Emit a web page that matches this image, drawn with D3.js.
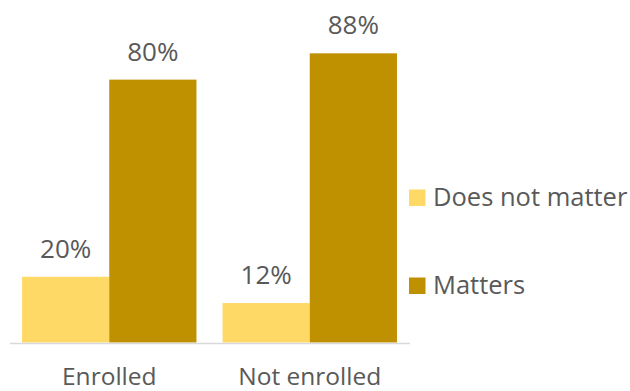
<!DOCTYPE html>
<html>
<head>
<meta charset="utf-8">
<script src="https://cdn.jsdelivr.net/npm/d3@7"></script>
<style>
  html, body { margin: 0; padding: 0; background: #fff; }
  svg text { font-family: "Open Sans", "Noto Sans", sans-serif; fill: #595959; }
</style>
</head>
<body>
<svg id="chart" width="630" height="391"></svg>
<script>
// Share of respondents, by enrollment status
const categories = ["Enrolled", "Not enrolled"];
const seriesNames = ["Does not matter", "Matters"];
const doesNotMatter = [20, 12];
const matters = [80, 88];
const seriesColors = ["#FFD966", "#BF9000"];

const svg = d3.select("#chart");

const x0 = d3.scaleBand()
  .domain(categories)
  .range([9, 410])
  .paddingInner(0.13)
  .paddingOuter(0.065);

const x1 = d3.scaleBand()
  .domain(seriesNames)
  .range([0, x0.bandwidth()]);

const y = d3.scaleLinear().domain([0, 100]).range([342.5, 13.9]);

const color = d3.scaleOrdinal().domain(seriesNames).range(seriesColors);

const rows = categories.map((c, i) => ({
  category: c,
  values: [
    { series: seriesNames[0], value: doesNotMatter[i] },
    { series: seriesNames[1], value: matters[i] }
  ]
}));

const groups = svg.selectAll("g.group")
  .data(rows)
  .join("g")
  .attr("class", "group")
  .attr("transform", d => `translate(${x0(d.category)},0)`);

groups.selectAll("rect")
  .data(d => d.values)
  .join("rect")
  .attr("x", d => x1(d.series))
  .attr("width", x1.bandwidth())
  .attr("y", d => y(d.value))
  .attr("height", d => y(0) - y(d.value))
  .attr("fill", d => color(d.series));

groups.selectAll("text.value")
  .data(d => d.values)
  .join("text")
  .attr("class", "value")
  .attr("x", d => x1(d.series) + x1.bandwidth() / 2)
  .attr("y", d => y(d.value) - 19)
  .attr("text-anchor", "middle")
  .attr("font-size", 26)
  .text(d => d.value + "%");

// baseline axis
const xAxis = d3.axisBottom(x0).tickSize(0).tickPadding(0);
const axisG = svg.append("g")
  .attr("transform", `translate(0,${y(0) + 1})`)
  .call(xAxis);
axisG.select(".domain").remove();
axisG.append("line")
  .attr("x1", 10).attr("x2", 410)
  .attr("y1", 0).attr("y2", 0)
  .attr("stroke", "#D9D9D9")
  .attr("stroke-width", 1.5);
axisG.selectAll(".tick text")
  .attr("y", 41.5)
  .attr("dy", null)
  .attr("font-size", 24.5)
  .attr("fill", "#595959")
  .attr("font-family", "'Open Sans', 'Noto Sans', sans-serif");

// legend
const legend = svg.append("g");
const legendY = d3.scalePoint().domain(seriesNames).range([206, 294]);
const items = legend.selectAll("g")
  .data(seriesNames)
  .join("g")
  .attr("transform", d => `translate(409,${legendY(d)})`);
items.append("rect")
  .attr("x", 0).attr("y", -16.5)
  .attr("width", 16.5).attr("height", 16.5)
  .attr("fill", d => color(d));
items.append("text")
  .attr("x", 24).attr("y", 0)
  .attr("font-size", 25.5)
  .text(d => d);
</script>
</body>
</html>
